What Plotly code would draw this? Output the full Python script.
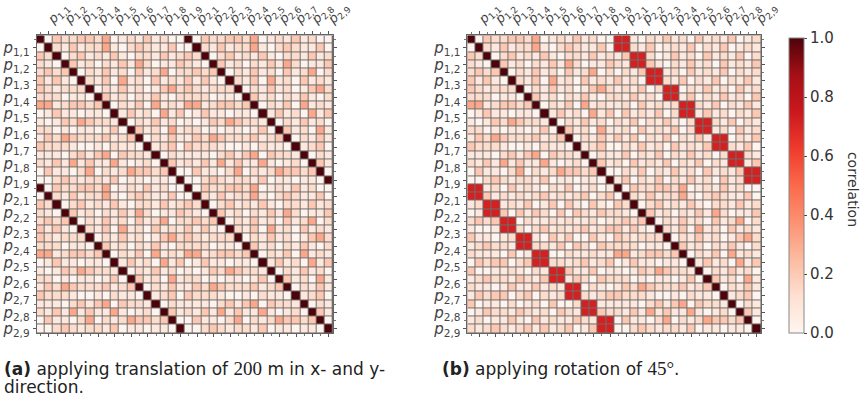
import numpy as np
import plotly.graph_objects as go

# ---- data (levels) ----
N_HALF = 18
# upper triangle of the 18x18 within-block correlation (row i, columns i+1..17)
A_upper = [
    "03223324012131200",
    "2131224102321130",
    "023121310221312",
    "31202131420113",
    "0213120312402",
    "213041203121",
    "02131201342",
    "3120213102",
    "021304121",
    "13120413",
    "0213120",
    "312041",
    "02131",
    "1230",
    "021",
    "31",
    "0",
    "",
]
# cross block for the rotation case (rows p1, columns p2)
B_rows = [
    "RR1021312031213012",
    "RR2130121302130121",
    "13RR20131203121302",
    "21RR31021312031213",
    "0213RR120312130212",
    "3120RR213021302131",
    "121302RR0213120312",
    "213120RR1302131203",
    "12031212RR21302131",
    "03121302RR13120213",
    "2130213102RR213021",
    "1203121302RR120312",
    "313021302131RR0213",
    "021312031213RR2130",
    "13021302131202RR21",
    "20312130213021RR13",
    "0213021312031213RR",
    "1302130213120312RR",
]
LEVEL = {"0": 0.01, "1": 0.08, "2": 0.14, "3": 0.21, "4": 0.31, "R": 0.72}

tick_labels = [f"<i>p</i><sub>{a},{b}</sub>" for a in (1, 2) for b in range(1, 10)]
cbar_ticks = [0.0, 0.2, 0.4, 0.6, 0.8, 1.0]

# ---- build matrices ----
A = np.eye(N_HALF)
for i, row in enumerate(A_upper):
    for k, ch in enumerate(row):
        j = i + 1 + k
        A[i, j] = A[j, i] = LEVEL[ch]
B = np.array([[LEVEL[c] for c in r] for r in B_rows])
corr_a = np.block([[A, A], [A, A]])
corr_b = np.block([[A, B], [B.T, A]])
n = 2 * N_HALF
idx = list(range(n))
tickvals = list(range(1, n, 2))

colorscale = [
    [0.0, "#fff5f0"], [0.125, "#fee0d2"], [0.25, "#fcbba1"], [0.375, "#fc9272"],
    [0.5, "#fb6a4a"], [0.625, "#ef3b2c"], [0.75, "#cb181d"], [0.875, "#a50f15"],
    [1.0, "#4e030a"],
]

W, H = 863, 398
def px(x): return x / W
def py(y): return 1 - y / H

fig = go.Figure()
fig.add_trace(go.Heatmap(z=corr_a, x=idx, y=idx, zmin=0, zmax=1, colorscale=colorscale,
                         xgap=1, ygap=1, showscale=False, xaxis="x", yaxis="y"))
fig.add_trace(go.Heatmap(z=corr_b, x=idx, y=idx, zmin=0, zmax=1, colorscale=colorscale,
                         xgap=1, ygap=1, xaxis="x2", yaxis="y2",
                         colorbar=dict(x=px(808), xanchor="left", xpad=0, thickness=15,
                                       len=300 / H, lenmode="fraction", y=py(188), yanchor="middle",
                                       ypad=0, tickvals=cbar_ticks, tickformat=".1f",
                                       ticks="outside", ticklen=3, tickcolor="#444",
                                       outlinecolor="#888", outlinewidth=1,
                                       tickfont=dict(size=15, color="#333", family="DejaVu Sans"))))

grid_top, grid_bot = 35, 338
def xax(x0, x1, anchor):
    return dict(domain=[px(x0), px(x1)], range=[-0.5, n - 0.5], side="top", anchor=anchor,
                tickmode="array", tickvals=tickvals, ticktext=tick_labels, tickangle=-45,
                ticks="outside", ticklen=3, tickcolor="#555",
                minor=dict(tickmode="linear", tick0=0, dtick=1, ticks="outside", ticklen=2, tickcolor="#777"),
                showline=True, linecolor="#666", linewidth=1, mirror="ticks",
                showgrid=False, zeroline=False,
                tickfont=dict(size=13, color="#444", family="DejaVu Sans"))
def yax(anchor):
    return dict(domain=[py(grid_bot), py(grid_top)], range=[n - 0.5, -0.5], anchor=anchor,
                tickmode="array", tickvals=tickvals, ticktext=tick_labels,
                ticks="outside", ticklen=3, tickcolor="#555",
                minor=dict(tickmode="linear", tick0=0, dtick=1, ticks="outside", ticklen=2, tickcolor="#777"),
                showline=True, linecolor="#666", linewidth=1, mirror="ticks",
                showgrid=False, zeroline=False,
                tickfont=dict(size=15, color="#444", family="DejaVu Sans"))

cap_font = dict(family="DejaVu Sans", size=17, color="#222")
serif = "font-family:'Liberation Serif';font-size:19px"
def cap(x, y, text):
    return dict(x=px(x), y=py(y), xref="paper", yref="paper", xanchor="left", yanchor="middle",
                align="left", showarrow=False, font=cap_font, text=text, borderpad=0)

fig.update_layout(
    width=W, height=H, margin=dict(l=0, r=0, t=0, b=0),
    paper_bgcolor="white", plot_bgcolor="#6e6e6e",
    xaxis=xax(37.5, 341, "y"), yaxis=yax("x"),
    xaxis2=xax(478.5, 779, "y2"), yaxis2=yax("x2"),
    annotations=[
        cap(3, 374, f"<b>(a)</b> applying translation of <span style=\"{serif}\">200</span> m in x- and y-"),
        cap(3, 393, "direction."),
        cap(451, 374, f"<b>(b)</b> applying rotation of <span style=\"{serif}\">45°</span>."),
        dict(x=px(874), y=py(192), xref="paper", yref="paper", xanchor="center", yanchor="middle",
             showarrow=False, textangle=90, font=dict(family="DejaVu Sans", size=14, color="#333"),
             text="correlation"),
    ],
)
fig.write_html("out.html")
